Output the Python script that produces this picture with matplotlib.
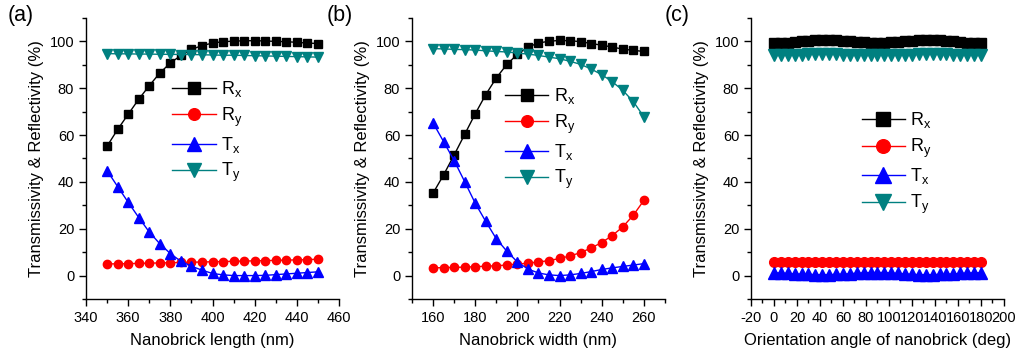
"""Transmissivity / reflectivity of the nanobrick vs length, width and angle."""

import matplotlib
matplotlib.use("Agg")
import matplotlib.pyplot as plt
from matplotlib.ticker import MultipleLocator

plt.rcParams.update(
    {
        "font.family": ["Liberation Sans", "DejaVu Sans"],
        "mathtext.fontset": "custom",
        "mathtext.rm": "Liberation Sans",
        "mathtext.default": "regular",
        "axes.linewidth": 1.0,
        "axes.unicode_minus": False,
    }
)

# (a) nanobrick length sweep
length_nm = [350, 355, 360, 365, 370, 375, 380, 385, 390, 395, 400,
             405, 410, 415, 420, 425, 430, 435, 440, 445, 450]
a_rx = [55.3, 62.4, 68.9, 75.3, 81.1, 86.5, 90.8, 94.0, 96.6, 98.2, 99.3,
        99.9, 100.1, 100.3, 100.3, 100.2, 100.0, 99.9, 99.6, 99.3, 99.1]
a_ry = [5.0, 5.0, 5.1, 5.2, 5.3, 5.4, 5.5, 5.6, 5.7, 5.8, 5.9,
        6.0, 6.1, 6.2, 6.3, 6.4, 6.5, 6.6, 6.7, 6.8, 7.0]
a_tx = [44.8, 38.0, 31.3, 24.8, 18.6, 13.6, 9.4, 6.1, 4.0, 2.3, 0.9,
        0.3, 0.0, 0.0, 0.0, 0.1, 0.4, 0.7, 1.0, 1.3, 1.6]
a_ty = [94.8, 94.7, 94.7, 94.6, 94.6, 94.5, 94.5, 94.4, 94.4, 94.3, 94.2,
        94.1, 94.1, 94.0, 93.9, 93.8, 93.7, 93.6, 93.5, 93.4, 93.3]

# (b) nanobrick width sweep
width_nm = [160, 165, 170, 175, 180, 185, 190, 195, 200, 205, 210,
            215, 220, 225, 230, 235, 240, 245, 250, 255, 260]
b_rx = [35.2, 43.0, 51.5, 60.3, 69.1, 77.3, 84.4, 90.2, 94.5, 97.6, 99.3,
        100.1, 100.4, 100.3, 99.9, 99.1, 98.4, 97.6, 96.7, 96.2, 95.7]
b_ry = [3.3, 3.4, 3.5, 3.6, 3.8, 4.0, 4.2, 4.5, 4.9, 5.3, 5.8,
        6.4, 7.3, 8.4, 9.8, 11.8, 14.1, 17.1, 20.8, 25.8, 32.1]
b_tx = [65.2, 57.2, 49.1, 40.1, 30.9, 23.1, 15.7, 10.4, 5.8, 2.8, 1.1,
        0.3, 0.0, 0.3, 0.9, 1.7, 2.6, 3.3, 3.9, 4.5, 5.1]
b_ty = [96.9, 96.8, 96.6, 96.5, 96.3, 96.0, 95.7, 95.5, 95.0, 94.6, 94.0,
        93.3, 92.6, 91.5, 90.2, 88.2, 85.8, 82.8, 79.1, 74.3, 67.8]

# (c) orientation angle sweep
angle_deg = [0, 6, 12, 18, 24, 30, 36, 42, 48, 54, 60, 66, 72, 78, 84, 90,
             96, 102, 108, 114, 120, 126, 132, 138, 144, 150, 156, 162, 168, 174, 180]
c_rx = [99.2, 99.3, 99.5, 99.8, 100.0, 100.2, 100.4, 100.5, 100.5, 100.4, 100.3,
        100.1, 99.9, 99.6, 99.4, 99.3, 99.4, 99.6, 99.9, 100.1, 100.3, 100.4,
        100.5, 100.5, 100.4, 100.2, 100.0, 99.8, 99.5, 99.3, 99.2]
c_ry = [5.9, 5.9, 5.8, 5.8, 5.7, 5.7, 5.6, 5.6, 5.6, 5.6, 5.7, 5.7, 5.8, 5.8,
        5.9, 5.9, 5.9, 5.8, 5.8, 5.7, 5.7, 5.6, 5.6, 5.6, 5.6, 5.7, 5.7, 5.8,
        5.8, 5.9, 5.9]
c_tx = [1.2, 1.1, 0.9, 0.7, 0.6, 0.5, 0.4, 0.4, 0.4, 0.5, 0.6, 0.8, 1.0, 1.2,
        1.3, 1.3, 1.3, 1.1, 0.9, 0.7, 0.5, 0.4, 0.4, 0.4, 0.5, 0.6, 0.7, 0.9,
        1.1, 1.2, 1.2]
c_ty = [94.2, 94.3, 94.3, 94.4, 94.4, 94.5, 94.5, 94.5, 94.5, 94.5, 94.4,
        94.4, 94.3, 94.3, 94.2, 94.2, 94.2, 94.3, 94.3, 94.4, 94.4, 94.5,
        94.5, 94.5, 94.5, 94.5, 94.4, 94.4, 94.3, 94.3, 94.2]

labels = ["R$_x$", "R$_y$", "T$_x$", "T$_y$"]
styles = [("s", "black"), ("o", "red"), ("^", "blue"), ("v", "#008080")]

# tag, x, series, xlabel, xlim, axes left, legend anchor, marker size, tag x (px)
panels = [
    ("(a)", length_nm, [a_rx, a_ry, a_tx, a_ty], "Nanobrick length (nm)",
     (340, 460), 0.0845, (0.305, 0.815), 6.0, 8),
    ("(b)", width_nm, [b_rx, b_ry, b_tx, b_ty], "Nanobrick width (nm)",
     (150, 270), 0.4047, (0.332, 0.79), 6.0, 327),
    ("(c)", angle_deg, [c_rx, c_ry, c_tx, c_ty], "Orientation angle of nanobrick (deg)",
     (-20, 200), 0.7377, (0.402, 0.703), 7.0, 665),
]

fig = plt.figure(figsize=(10.18, 3.53), dpi=100)

for tag, x, series, xlabel, xlim, left, leg_xy, ms, tag_x in panels:
    ax = fig.add_axes([left, 0.153, 0.2485, 0.796])
    for ys, (mk, col), lab in zip(series, styles, labels):
        size = ms + 1 if mk in "^v" else ms
        ax.plot(x, ys, color=col, lw=1.0, marker=mk, ms=size, label=lab)
    ax.set_xlim(*xlim)
    ax.set_ylim(-10, 110)
    ax.xaxis.set_major_locator(MultipleLocator(20))
    ax.xaxis.set_minor_locator(MultipleLocator(10))
    ax.yaxis.set_minor_locator(MultipleLocator(10))
    ax.set_yticks([0, 20, 40, 60, 80, 100])
    ax.spines["top"].set_visible(False)
    ax.spines["right"].set_visible(False)
    ax.tick_params(which="major", direction="out", length=5, width=1, labelsize=10.5)
    ax.tick_params(which="minor", direction="out", length=3, width=1)
    ax.set_xlabel(xlabel, fontsize=12, labelpad=6)
    ax.set_ylabel("Transmissivity & Reflectivity (%)", fontsize=12, labelpad=4)
    ax.legend(loc="upper left", bbox_to_anchor=leg_xy, frameon=False, fontsize=13,
              handlelength=2.4, handletextpad=0.3, labelspacing=0.35,
              borderpad=0.0, markerscale=1.4)
    fig.text(tag_x / 1018, 1 - 5 / 353, tag, fontsize=15.5, ha="left", va="top")

fig.savefig("out.png", dpi=100)
